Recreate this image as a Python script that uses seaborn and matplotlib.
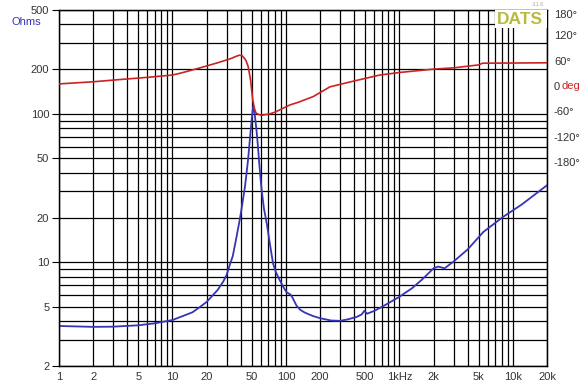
import numpy as np
import matplotlib
matplotlib.use("Agg")
import matplotlib.pyplot as plt
from matplotlib.patches import Rectangle
import seaborn as sns

# =====================================================
# Data (read off the DATS impedance sweep)
# =====================================================
imp_freq = [1, 2, 3, 5, 7, 10, 15, 17.5, 20, 25, 28, 30, 32, 34, 36.5, 39,
            40.5, 42, 43.5, 45, 46.5, 48, 49, 50, 50.8, 51.5, 52.2, 53, 54, 55,
            56.5, 58, 59.5, 61, 64, 68, 72, 77, 82, 88, 95, 101, 106, 110, 114,
            118, 124, 133, 145, 160, 175, 200, 250, 300, 350, 420, 465, 490,
            520, 600, 700, 800, 1000, 1300, 1600, 2000, 2200, 2500, 3000, 4000,
            5500, 8200, 12000, 20000]
imp_ohms = [3.72, 3.67, 3.68, 3.76, 3.88, 4.08, 4.6, 5.0, 5.4, 6.5, 7.4, 8.2,
            9.6, 11.0, 14.5, 19, 22.5, 27, 32, 40, 50, 66, 78, 92, 104, 112,
            110, 100, 88, 78, 62, 48, 38, 31, 23, 18, 13.5, 9.8, 8.5, 7.6, 6.8,
            6.3, 6.15, 6.05, 5.8, 5.5, 5.1, 4.8, 4.6, 4.45, 4.33, 4.2, 4.05,
            4.03, 4.12, 4.28, 4.45, 4.7, 4.5, 4.7, 5.0, 5.3, 5.85, 6.7, 7.7,
            9.1, 9.35, 9.1, 10.1, 12.2, 16.0, 20.2, 24.5, 33]

ph_freq = [1, 2, 3, 6.3, 10, 12, 17.5, 25, 32, 37, 39, 41, 43, 44.5, 46.5,
           48.8, 51, 53, 54.5, 58, 62, 72, 80, 108, 130, 174, 244, 400, 673,
           1000, 2000, 3000, 5000, 5400, 20000]
ph_deg = [5, 10, 14, 21, 26, 31, 43, 55, 64, 71, 73, 72, 66, 60, 46, 14, -33,
          -55, -64, -68, -69, -66, -62, -45, -38, -25, -2, 12, 26, 32, 40, 43,
          50, 54, 55]

x_labels = {1: "1", 2: "2", 5: "5", 10: "10", 20: "20", 50: "50", 100: "100",
            200: "200", 500: "500", 1000: "1kHz", 2000: "2k", 5000: "5k",
            10000: "10k", 20000: "20k"}
y_labels = [2, 5, 10, 20, 50, 100, 200, 500]
ph_ticks = [180, 120, 60, 0, -60, -120, -180]

BLUE = "#3535b5"
RED = "#cc2222"
TXT = "#333333"

# =====================================================
# Figure
# =====================================================
sns.set_style("white")
plt.rcParams["font.family"] = ["Liberation Sans", "DejaVu Sans"]

fig = plt.figure(figsize=(5.82, 3.84), dpi=100)
ax = fig.add_axes([59 / 582, 18 / 384, 488 / 582, 356 / 384])
ax2 = ax.twinx()

sns.lineplot(x=imp_freq, y=imp_ohms, ax=ax, color=BLUE, lw=1.3,
             estimator=None, sort=False, zorder=3)
sns.lineplot(x=ph_freq, y=ph_deg, ax=ax2, color=RED, lw=1.2,
             estimator=None, sort=False, zorder=3)

ax.set_xscale("log")
ax.set_yscale("log")
ax.set_xlim(1, 20000)
ax.set_ylim(2, 500)
ax2.set_ylim(-663, 180)

# grid: every 1..9 per decade
x_grid = [m * 10 ** d for d in range(5) for m in range(1, 10) if m * 10 ** d <= 20000]
y_grid = [m * 10 ** d for d in range(3) for m in range(1, 10) if 2 <= m * 10 ** d <= 500]

ax.set_xticks(x_grid)
ax.set_xticklabels([x_labels.get(v, "") for v in x_grid])
ax.set_xticks([], minor=True)
ax.set_yticks(y_labels)
ax.set_yticklabels([str(v) for v in y_labels])
ax.set_yticks([v for v in y_grid if v not in y_labels], minor=True)
ax.yaxis.set_minor_formatter(plt.NullFormatter())

ax.tick_params(axis="x", length=0, pad=4, labelsize=8, labelcolor=TXT)
ax.tick_params(axis="y", which="major", length=5, width=0.8, color="black",
               pad=2, labelsize=8, labelcolor=TXT)
ax.tick_params(axis="y", which="minor", length=0)
ax.grid(True, which="both", color="black", lw=0.9)
ax.set_xlabel("")
ax.set_ylabel("")

ax2.set_yticks(ph_ticks)
ax2.set_yticklabels([f"{t}°" if t != 0 else "0" for t in ph_ticks])
ax2.tick_params(axis="y", length=0, pad=5, labelsize=8, labelcolor=TXT)
for lab in ax2.get_yticklabels():
    if lab.get_text() == "180°":
        lab.set_va("top")
ax2.grid(False)
ax2.set_ylabel("")
ax2.annotate("deg", xy=(1.0, 0), xycoords=ax2.get_yaxis_transform(),
             xytext=(10.5, 0), textcoords="offset points", color=RED,
             fontsize=8, va="center", ha="left", annotation_clip=False)
fig.text(11 / 582, 1 - 22 / 384, "Ohms", color=BLUE, fontsize=8,
         va="center", ha="left")

for sp in list(ax.spines.values()) + list(ax2.spines.values()):
    sp.set_color("black")
    sp.set_linewidth(0.9)

# DATS badge
ax2.add_patch(Rectangle((436 / 488, 338 / 356), 52 / 488, 18 / 356,
                        transform=ax2.transAxes, facecolor="white",
                        edgecolor="none", zorder=4))
ax2.text(461 / 488, 347 / 356, "DATS", transform=ax2.transAxes, color="#b8ba3c",
         fontsize=12.5, fontweight="bold", ha="center", va="center", zorder=5)
fig.text(538 / 582, 1 - 4 / 384, "3.1.6", color="#aaaaaa", fontsize=4,
         ha="center", va="center")

fig.savefig("out.png", dpi=100)
